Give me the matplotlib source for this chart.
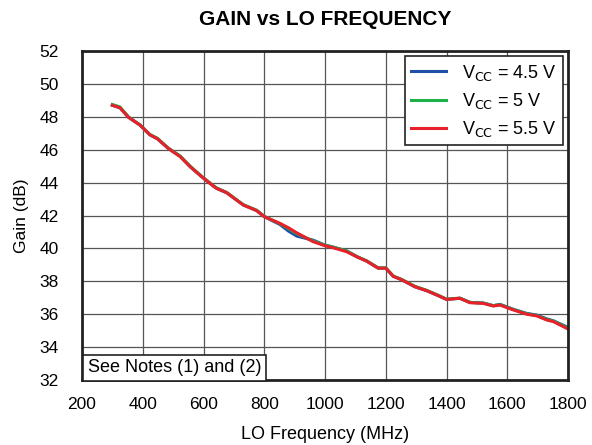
import matplotlib
matplotlib.use("Agg")
import matplotlib.pyplot as plt

plt.rcParams['font.family'] = ['Liberation Sans', 'DejaVu Sans']

freq = [300, 325, 353, 391, 424, 448, 484, 523, 556, 594, 632, 643, 676, 731, 775, 800,
        852, 880, 907, 961, 1000, 1027, 1071, 1104, 1137, 1175, 1200, 1225, 1252, 1296,
        1335, 1373, 1400, 1444, 1477, 1521, 1554, 1576, 1620, 1664, 1697, 1730, 1752, 1800]

gain_55 = [48.7, 48.55, 47.97, 47.5, 46.9, 46.67, 46.08, 45.58, 44.97, 44.36, 43.8, 43.65,
           43.39, 42.64, 42.3, 41.93, 41.52, 41.25, 40.95, 40.41, 40.16, 40.04, 39.8, 39.5,
           39.23, 38.8, 38.8, 38.3, 38.1, 37.67, 37.43, 37.13, 36.9, 36.97, 36.7, 36.66,
           36.5, 36.56, 36.26, 36.0, 35.9, 35.65, 35.55, 35.1]

gain_45 = [48.7, 48.55, 47.97, 47.5, 46.9, 46.67, 46.08, 45.6, 44.97, 44.36, 43.8, 43.65,
           43.39, 42.64, 42.3, 41.93, 41.45, 41.05, 40.75, 40.5, 40.2, 40.08, 39.85, 39.5,
           39.23, 38.8, 38.8, 38.3, 38.1, 37.67, 37.43, 37.13, 36.9, 36.97, 36.72, 36.68,
           36.52, 36.6, 36.3, 36.05, 35.95, 35.72, 35.6, 35.2]

gain_5 = [48.75, 48.6, 48.0, 47.5, 46.92, 46.7, 46.1, 45.62, 45.0, 44.38, 43.82, 43.68,
          43.4, 42.66, 42.32, 41.95, 41.5, 41.2, 40.9, 40.45, 40.2, 40.08, 39.85, 39.52,
          39.25, 38.82, 38.82, 38.32, 38.12, 37.7, 37.45, 37.15, 36.92, 36.98, 36.72, 36.68,
          36.52, 36.58, 36.28, 36.03, 35.92, 35.68, 35.58, 35.15]

labels = ['V$_{\\mathrm{CC}}$ = 4.5 V', 'V$_{\\mathrm{CC}}$ = 5 V', 'V$_{\\mathrm{CC}}$ = 5.5 V']
colors = ['#1f4fa8', '#1fb04a', '#e8202a']

fig = plt.figure(figsize=(5.92, 4.45), dpi=100)
ax = fig.add_axes([0.1385, 0.146, 0.821, 0.7394])

for g, lab, c in zip([gain_45, gain_5, gain_55], labels, colors):
    ax.plot(freq, g, color=c, lw=2.2, label=lab, solid_joinstyle='round')

ax.set_xlim(200, 1800)
ax.set_ylim(32, 52)
ax.set_xticks(range(200, 1801, 200))
ax.set_yticks(range(32, 53, 2))
ax.grid(True, color='#555555', lw=0.9)
ax.set_axisbelow(True)
ax.tick_params(axis='x', length=0, labelsize=12.5, pad=12)
ax.tick_params(axis='y', length=0, labelsize=12.5, pad=17)
for s in ax.spines.values():
    s.set_linewidth(2.0)
    s.set_color('#222222')

ax.set_xlabel('LO Frequency (MHz)', fontsize=13, labelpad=10)
ax.set_ylabel('Gain (dB)', fontsize=12.5, labelpad=7)
fig.suptitle('GAIN vs LO FREQUENCY', fontsize=15, fontweight='bold', x=0.549, y=0.978)

leg = ax.legend(loc='upper right', fontsize=13, frameon=True, fancybox=False,
                edgecolor='#222222', framealpha=1, borderaxespad=0.3, borderpad=0.35,
                handlelength=1.95, handletextpad=0.85, labelspacing=0.45)
leg.get_frame().set_linewidth(1.2)

ax.text(0.012, 0.012, 'See Notes (1) and (2)', transform=ax.transAxes, fontsize=13,
        ha='left', va='bottom',
        bbox=dict(boxstyle='square,pad=0.25', fc='white', ec='#222222', lw=1.2))

fig.savefig('out.png', dpi=100)
